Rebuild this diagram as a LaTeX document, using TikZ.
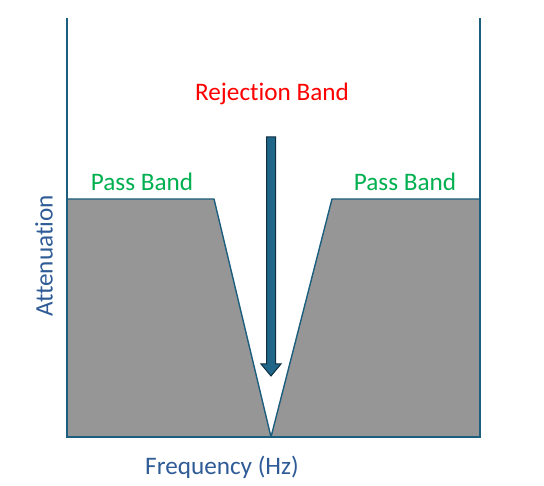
\documentclass[tikz,border=0pt]{standalone}
\usepackage{fontspec}
\setmainfont{Carlito}[Ligatures=CommonOff]
\usetikzlibrary{arrows.meta}
\definecolor{axisc}{HTML}{1B5E7E}
\definecolor{arrowc}{HTML}{1F6688}
\definecolor{arrowo}{HTML}{0E2F40}
\definecolor{bandg}{HTML}{00B050}
\definecolor{labelb}{HTML}{2F5C96}
\definecolor{fillg}{HTML}{969696}
\tikzset{
  lbl/.style={inner sep=0pt, font=\fontsize{25.2}{30}\selectfont},
  axisline/.style={draw=axisc, line width=2pt},
}
\begin{document}
\begin{tikzpicture}[x=1pt,y=-1pt]
\useasboundingbox (0,0) rectangle (544,486);
% filled response
\fill[fillg] (67,199) -- (214,199) -- (271,437) -- (332,199) -- (480,199) -- (480,437) -- (67,437) -- cycle;
\draw[axisc, line width=1.4pt, line join=round] (67,199) -- (214,199) -- (271,437) -- (332,199) -- (480,199);
% axes
\coordinate (tl) at (67,18);
\coordinate (bl) at (67,437);
\coordinate (br) at (480,437);
\coordinate (tr) at (480,18);
\draw[axisline] (tl) -- (bl) -- (br) -- (tr);
% arrow
\coordinate (as) at (271,137);
\coordinate (ae) at (271,376);
\draw[arrowo, line width=1pt, fill=arrowc] (266.5,137) -- (275.5,137) -- (275.5,364) -- (281,364) -- (271,376) -- (261,364) -- (266.5,364) -- cycle;
% labels
\node[lbl, text=red] (rej) at (272,93.5) {Rejection Band};
\node[lbl, text=bandg] (pb1) at (142,181.5) {Pass Band};
\node[lbl, text=bandg] (pb2) at (405,181.5) {Pass Band};
\node[lbl, text=labelb] (freq) at (222,467) {Frequency (Hz)};
\node[lbl, text=labelb, rotate=90] (att) at (44,256) {Attenuation};
\end{tikzpicture}
\end{document}
